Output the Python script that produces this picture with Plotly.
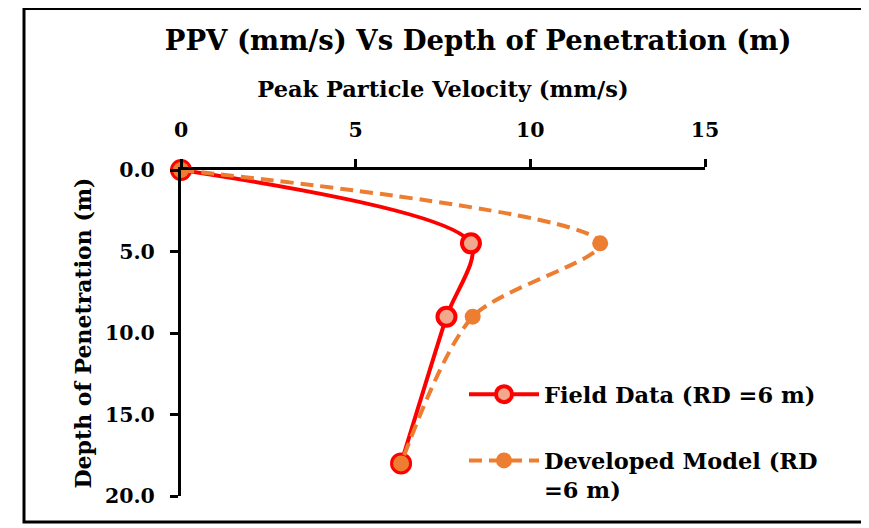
import plotly.graph_objects as go

depth = [0, 4.5, 9, 18]
field_ppv = [0, 8.3, 7.6, 6.3]
model_ppv = [0, 12.0, 8.35, 6.3]
x_ticks = [0, 5, 10, 15]
y_ticks = [0, 5, 10, 15, 20]

FONT = "DejaVu Serif"
L, T, W, H = 173, 162, 524, 326

fig = go.Figure()
fig.add_trace(go.Scatter(
    x=field_ppv, y=depth, mode="lines+markers", name="<b>Field Data (RD =6 m)</b>",
    legendgroup="a", cliponaxis=False,
    line=dict(color="#FF0000", width=4, shape="spline", smoothing=0.8),
    marker=dict(size=18, color="#F2A88A", line=dict(color="#FF0000", width=4)),
))
fig.add_trace(go.Scatter(
    x=model_ppv, y=depth, mode="lines+markers", name="<b>Developed Model (RD<br>=6 m)</b>",
    legendgroup="b", cliponaxis=False,
    line=dict(color="#ED7D31", width=4, dash="13px,7px", shape="spline", smoothing=0.8),
    marker=dict(size=16, color="#ED7D31"),
))

fig.update_layout(
    width=869, height=528,
    margin=dict(l=L, r=869 - L - W, t=T, b=528 - T - H),
    paper_bgcolor="white", plot_bgcolor="white",
    font=dict(family=FONT, color="black"),
    title=dict(text="<b>PPV (mm/s) Vs Depth of Penetration (m)</b>",
               x=0.567, xref="paper", xanchor="center", y=1 - 32 / 528, yanchor="middle",
               font=dict(size=27.5, family=FONT)),
    showlegend=True,
    legend=dict(x=(456 - L) / W, y=(T + H - 365) / H, xanchor="left", yanchor="top",
                font=dict(size=22.5, family=FONT), bgcolor="rgba(0,0,0,0)",
                tracegroupgap=34, itemwidth=70, valign="top"),
    xaxis=dict(side="top", range=[0, 15], tickvals=x_ticks,
               ticktext=[f"<b>{v}</b>" for v in x_ticks],
               showgrid=False, zeroline=False, showline=True, linecolor="black",
               linewidth=3, ticks="outside", ticklen=8, tickwidth=3, tickcolor="black",
               ticklabelstandoff=14,
               tickfont=dict(size=20.5, family=FONT),
               title=dict(text="<b>Peak Particle Velocity (mm/s)</b>", font=dict(size=22.5, family=FONT), standoff=14)),
    yaxis=dict(range=[20, 0], tickvals=y_ticks,
               ticktext=[f"<b>{v:.1f}</b>" for v in y_ticks],
               showgrid=False, zeroline=False, showline=True, linecolor="black",
               linewidth=3, ticks="outside", ticklen=8, tickwidth=3, tickcolor="black",
               ticklabelstandoff=11,
               tickfont=dict(size=20.5, family=FONT),
               title=dict(text="<b>Depth of Penetration (m)</b>", font=dict(size=22, family=FONT), standoff=8)),
)

fig.add_shape(type="rect", xref="paper", yref="paper",
              x0=(16 - L) / W, x1=(880 - L) / W,
              y0=(T + H - 514) / H, y1=(T + H - 0.5) / H,
              line=dict(color="black", width=3), fillcolor="rgba(0,0,0,0)", layer="below")

fig.write_html("out.html")
